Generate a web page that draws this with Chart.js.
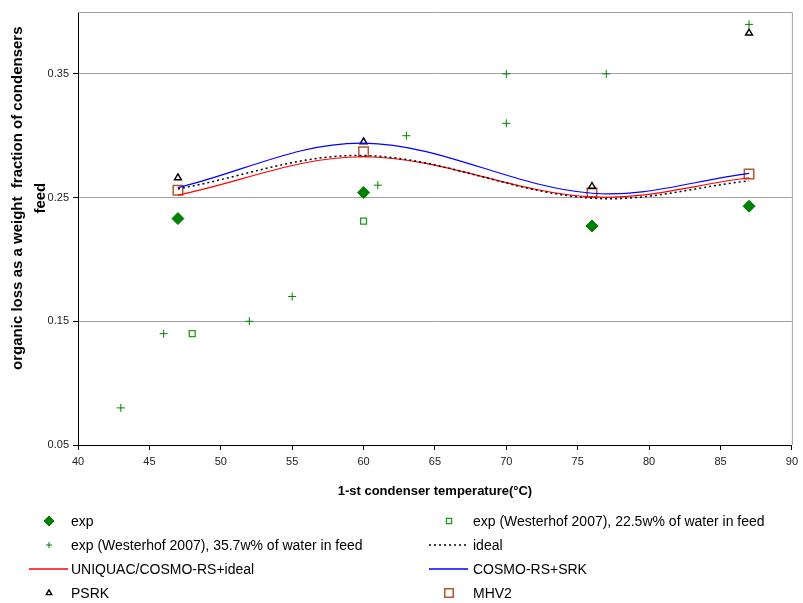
<!DOCTYPE html>
<html>
<head>
<meta charset="utf-8">
<title>Organic loss vs condenser temperature</title>
<script src="https://cdn.jsdelivr.net/npm/chart.js@4.4.1/dist/chart.umd.min.js"></script>
<style>
    body { margin: 0; background: #fff; }
    #wrap { position: relative; width: 803px; height: 603px; }
    #legend {
        position: absolute; left: 0; top: 0; width: 803px; height: 603px;
        font-family: "Liberation Sans", Arial, sans-serif; font-size: 14px; color: #000;
    }
    .lg-icon { position: absolute; display: block; }
    .lg-text { position: absolute; line-height: 18px; white-space: nowrap; }
</style>
</head>
<body>
<div id="wrap">
    <canvas id="chart" width="803" height="603"></canvas>
    <div id="legend"></div>
</div>
<script>
/* ---------- data ---------- */
const X_TICKS = [40, 45, 50, 55, 60, 65, 70, 75, 80, 85, 90];
const Y_TICKS = [0.05, 0.15, 0.25, 0.35];
const Y_TITLE = ['organic loss as a weight  fraction of condensers', 'feed'];

// own measurements
const EXP_T = [47, 60, 76, 87];
const EXP_Y = [0.233, 0.254, 0.227, 0.243];

// Westerhof 2007, 22.5 w% water
const W225_T = [48, 60];
const W225_Y = [0.14, 0.231];

// Westerhof 2007, 35.7 w% water
const W357_T = [43, 46, 52, 55, 61, 63, 70, 70, 77, 87];
const W357_Y = [0.08, 0.14, 0.15, 0.17, 0.26, 0.30, 0.35, 0.31, 0.35, 0.39];

// model predictions
const MODEL_T = [47, 60, 76, 87];
const IDEAL_Y = [0.257, 0.284, 0.2495, 0.2635];
const UNIQUAC_Y = [0.252, 0.283, 0.2505, 0.266];
const SRK_Y = [0.258, 0.294, 0.2535, 0.2695];
const PSRK_Y = [0.266, 0.295, 0.259, 0.383];
const MHV2_Y = [0.256, 0.287, 0.254, 0.269];

const pts = (xs, ys) => xs.map((x, i) => ({ x: x, y: ys[i] }));

const GREEN = '#008000';
const BROWN = '#b4572e';
const NONE = 'rgba(0,0,0,0)';

// legend swatches: kept apart from the dataset objects
const SWATCH = {
    'exp':     { style: 'rectRot', radius: 5, fill: GREEN, stroke: GREEN, width: 1 },
    'w225':    { style: 'rect', radius: 3.6, fill: NONE, stroke: '#1f9a1f', width: 1.3 },
    'w357':    { style: 'cross', radius: 3, fill: GREEN, stroke: GREEN, width: 1 },
    'ideal':   { line: true, stroke: '#000', width: 1.5, dash: [2, 3] },
    'uniquac': { line: true, stroke: '#ff0000', width: 1.4 },
    'srk':     { line: true, stroke: '#0000ff', width: 1.4 },
    'psrk':    { style: 'triangle', radius: 3.2, fill: NONE, stroke: '#000', width: 1.4 },
    'mhv2':    { style: 'rect', radius: 6, fill: NONE, stroke: BROWN, width: 1.5 }
};

const datasets = [
    {
        key: 'exp', label: 'exp', data: pts(EXP_T, EXP_Y),
        pointStyle: 'rectRot', pointRadius: 6, borderWidth: 1,
        backgroundColor: GREEN, borderColor: GREEN
    },
    {
        key: 'w225', label: 'exp (Westerhof 2007), 22.5w% of water in feed', data: pts(W225_T, W225_Y),
        pointStyle: 'rect', pointRadius: 4.2, borderWidth: 1.3,
        backgroundColor: NONE, borderColor: '#1f9a1f'
    },
    {
        key: 'w357', label: 'exp (Westerhof 2007), 35.7w% of water in feed', data: pts(W357_T, W357_Y),
        pointStyle: 'cross', pointRadius: 4, borderWidth: 1,
        backgroundColor: GREEN, borderColor: GREEN
    },
    {
        key: 'ideal', label: 'ideal', data: pts(MODEL_T, IDEAL_Y),
        showLine: true, tension: 0.35, pointRadius: 0, borderWidth: 1.5,
        borderDash: [2, 3], borderColor: '#000'
    },
    {
        key: 'uniquac', label: 'UNIQUAC/COSMO-RS+ideal', data: pts(MODEL_T, UNIQUAC_Y),
        showLine: true, tension: 0.35, pointRadius: 0, borderWidth: 1.2,
        borderColor: '#ff0000'
    },
    {
        key: 'srk', label: 'COSMO-RS+SRK', data: pts(MODEL_T, SRK_Y),
        showLine: true, tension: 0.35, pointRadius: 0, borderWidth: 1.2,
        borderColor: '#0000ff'
    },
    {
        key: 'psrk', label: 'PSRK', data: pts(MODEL_T, PSRK_Y),
        pointStyle: 'triangle', pointRadius: 4, borderWidth: 1.4,
        backgroundColor: NONE, borderColor: '#000'
    },
    {
        key: 'mhv2', label: 'MHV2', data: pts(MODEL_T, MHV2_Y),
        pointStyle: 'rect', pointRadius: 6.7, borderWidth: 1.5,
        backgroundColor: NONE, borderColor: BROWN
    }
];

// gray frame on top and right, plus the two-line y title
const framePlugin = {
    id: 'frame',
    beforeDatasetsDraw(chart) {
        const { ctx, chartArea: a } = chart;
        ctx.save();
        ctx.strokeStyle = '#a0a0a0';
        ctx.lineWidth = 1;
        ctx.beginPath();
        ctx.moveTo(a.left, a.top + 0.5);
        ctx.lineTo(a.right + 0.5, a.top + 0.5);
        ctx.lineTo(a.right + 0.5, a.bottom);
        ctx.stroke();
        ctx.restore();
    },
    afterDraw(chart) {
        const { ctx, chartArea: a } = chart;
        const cy = a.top + (a.bottom - a.top) * 0.43;
        ctx.save();
        ctx.translate(18, cy);
        ctx.rotate(-Math.PI / 2);
        ctx.font = 'bold 15px "Liberation Sans", Arial, sans-serif';
        ctx.fillStyle = '#000';
        ctx.textAlign = 'center';
        ctx.textBaseline = 'middle';
        ctx.fillText(Y_TITLE[0], 0, 0);
        ctx.fillText(Y_TITLE[1], 0, 23);
        ctx.restore();
    }
};

const tickFont = { family: '"Liberation Sans", Arial, sans-serif', size: 11 };
const titleFont = { family: '"Liberation Sans", Arial, sans-serif', size: 13, weight: 'bold' };

new Chart(document.getElementById('chart'), {
    type: 'scatter',
    data: { datasets: datasets },
    plugins: [framePlugin],
    options: {
        responsive: false,
        animation: false,
        layout: { padding: { left: 0, right: 8, top: 12, bottom: 100 } },
        plugins: { legend: { display: false }, tooltip: { enabled: false } },
        scales: {
            x: {
                type: 'linear', min: 40, max: 90,
                afterBuildTicks: s => { s.ticks = X_TICKS.map(v => ({ value: v })); },
                afterFit: s => { s.height = 58; },
                grid: { drawOnChartArea: false, tickLength: 5, tickColor: '#000' },
                border: { color: '#000', width: 1 },
                ticks: { color: '#222', font: tickFont, padding: 5, maxRotation: 0, callback: v => String(v) },
                title: {
                    display: true, text: '1-st condenser temperature(°C)',
                    color: '#000', font: titleFont, padding: { top: 0, bottom: 4 }
                }
            },
            y: {
                type: 'linear', min: 0.05, max: 0.40,
                afterBuildTicks: s => { s.ticks = Y_TICKS.map(v => ({ value: v })); },
                afterFit: s => { s.width = 78; },
                grid: { color: '#a0a0a0', tickLength: 5, tickColor: '#000', lineWidth: 1 },
                border: { color: '#000', width: 1 },
                ticks: { color: '#222', font: tickFont, padding: 4, callback: v => v.toFixed(2) }
            }
        }
    }
});

/* ---------- legend in two columns below the plot ---------- */
const LEGEND_ROWS = [521, 545, 569, 593];
const LEGEND_COLS = [{ icon: 49, text: 71 }, { icon: 449, text: 473 }];

const legendBox = document.getElementById('legend');
datasets.forEach((ds, k) => {
    const sw = SWATCH[ds.key];
    const col = LEGEND_COLS[k % 2];
    const y = LEGEND_ROWS[Math.floor(k / 2)];

    const icon = document.createElement('canvas');
    icon.width = 44; icon.height = 18;
    icon.className = 'lg-icon';
    icon.style.left = (col.icon - 22) + 'px';
    icon.style.top = (y - 9) + 'px';
    const c = icon.getContext('2d');
    c.lineWidth = sw.width;
    c.strokeStyle = sw.stroke;
    if (sw.line) {
        c.setLineDash(sw.dash || []);
        c.beginPath();
        c.moveTo(2, 9);
        c.lineTo(41, 9);
        c.stroke();
    } else {
        c.fillStyle = sw.fill;
        Chart.helpers.drawPoint(c, {
            pointStyle: sw.style, radius: sw.radius, rotation: 0, borderWidth: sw.width
        }, 22, 9);
    }
    legendBox.appendChild(icon);

    const text = document.createElement('div');
    text.className = 'lg-text';
    text.textContent = ds.label;
    text.style.left = col.text + 'px';
    text.style.top = (y - 9) + 'px';
    legendBox.appendChild(text);
});
</script>
</body>
</html>
